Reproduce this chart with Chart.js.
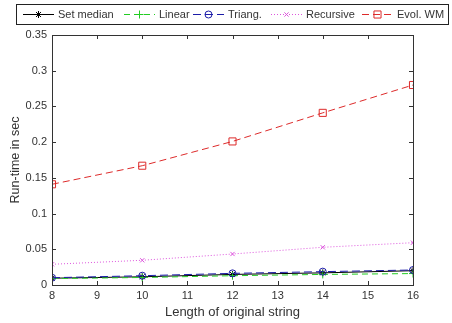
<!DOCTYPE html>
<html>
<head>
<meta charset="utf-8">
<script src="https://cdn.jsdelivr.net/npm/chart.js@4"></script>
<style>
  html, body { margin: 0; padding: 0; background: #fff; }
  #wrap { width: 452px; height: 323px; }
</style>
</head>
<body>
<div id="wrap"><canvas id="runtimeChart" width="452" height="323"></canvas></div>
<script>
// string lengths on the x axis
const lengths = [8, 10, 12, 14, 16];

// run-time per method (sec)
const setMedian = [0.0095, 0.0115, 0.0148, 0.0170, 0.0200];
const linear = [0.0090, 0.0105, 0.0130, 0.0148, 0.0160];
const triang = [0.0102, 0.0130, 0.0163, 0.0187, 0.0210];
const recursive = [0.0290, 0.0346, 0.0434, 0.0528, 0.0592];
const evolWM = [0.141, 0.167, 0.201, 0.241, 0.280];

const seriesNames = ['Set median', 'Linear', 'Triang.', 'Recursive', 'Evol. WM'];
const xTicks = [8, 9, 10, 11, 12, 13, 14, 15, 16];
const yTickLabels = ['0', '0.05', '0.1', '0.15', '0.2', '0.25', '0.3', '0.35'];

const FONT = "'Liberation Sans', Arial, sans-serif";

function pts(ys) {
    return lengths.map((x, i) => ({ x: x, y: ys[i] }));
}

function makeSet(label, ys, color, dash, style, radius, order) {
    return {
        label: label,
        data: pts(ys),
        borderColor: color,
        borderWidth: 1,
        borderDash: dash,
        pointStyle: style,
        pointRadius: radius,
        pointBorderColor: color,
        pointBackgroundColor: 'rgba(0,0,0,0)',
        pointBorderWidth: 1,
        tension: 0,
        fill: false,
        order: order
    };
}

const datasets = [
    makeSet(seriesNames[0], setMedian, '#000000', [], 'star', 3.5, 5),
    makeSet(seriesNames[1], linear, '#22cc22', [6, 4], 'cross', 4, 4),
    makeSet(seriesNames[2], triang, '#1c1ca8', [8, 4], 'circle', 3.5, 3),
    makeSet(seriesNames[3], recursive, '#dd55dd', [1, 2], 'crossRot', 3, 2),
    makeSet(seriesNames[4], evolWM, '#dd2a2a', [7, 4], 'rect', 5, 1)
];

// MATLAB style frame: box with inward ticks on all four sides
const framePlugin = {
    id: 'frame',
    afterDatasetsDraw(chart) {
        const ctx = chart.ctx;
        const a = chart.chartArea;
        const xs = chart.scales.x;
        const ys = chart.scales.y;
        ctx.save();
        ctx.strokeStyle = '#333';
        ctx.lineWidth = 1;
        ctx.setLineDash([]);
        ctx.beginPath();
        xTicks.forEach(v => {
            const px = Math.round(xs.getPixelForValue(v)) + 0.5;
            ctx.moveTo(px, a.bottom);
            ctx.lineTo(px, a.bottom - 4);
            ctx.moveTo(px, a.top);
            ctx.lineTo(px, a.top + 4);
        });
        yTickLabels.forEach((t, i) => {
            const py = Math.round(ys.getPixelForValue(i * 0.05)) + 0.5;
            ctx.moveTo(a.left, py);
            ctx.lineTo(a.left + 4, py);
            ctx.moveTo(a.right, py);
            ctx.lineTo(a.right - 4, py);
        });
        ctx.stroke();
        ctx.strokeRect(Math.round(a.left) + 0.5, Math.round(a.top) + 0.5,
            Math.round(a.right - a.left), Math.round(a.bottom - a.top));
        ctx.restore();
    }
};

// boxed legend across the top
const legendSlots = [23, 124, 193, 271, 362];
const legendPlugin = {
    id: 'boxLegend',
    afterDraw(chart) {
        const ctx = chart.ctx;
        ctx.save();
        ctx.fillStyle = '#fff';
        ctx.fillRect(16, 4, 433, 20);
        ctx.strokeStyle = '#222';
        ctx.lineWidth = 1;
        ctx.setLineDash([]);
        ctx.strokeRect(16.5, 4.5, 432, 20);
        const cy = 14.5;
        datasets.forEach((ds, i) => {
            const x0 = legendSlots[i];
            const x1 = x0 + 31;
            ctx.strokeStyle = ds.borderColor;
            ctx.lineWidth = 1;
            ctx.setLineDash(ds.borderDash);
            ctx.beginPath();
            ctx.moveTo(x0, cy);
            ctx.lineTo(x1, cy);
            ctx.stroke();
            ctx.setLineDash([]);
            ctx.fillStyle = 'rgba(0,0,0,0)';
            Chart.helpers.drawPoint(ctx, {
                pointStyle: ds.pointStyle,
                radius: ds.pointRadius,
                rotation: 0,
                borderWidth: 1
            }, (x0 + x1) / 2, cy);
            ctx.fillStyle = '#333';
            ctx.font = '11px ' + FONT;
            ctx.textBaseline = 'middle';
            ctx.fillText(ds.label, x1 + 4, cy);
        });
        ctx.restore();
    }
};

new Chart(document.getElementById('runtimeChart').getContext('2d'), {
    type: 'line',
    data: { datasets: datasets },
    options: {
        responsive: false,
        animation: false,
        devicePixelRatio: 1,
        layout: { padding: { top: 35, right: 39, left: 0, bottom: 0 } },
        plugins: {
            legend: { display: false },
            tooltip: { enabled: false }
        },
        scales: {
            x: {
                type: 'linear',
                min: 8,
                max: 16,
                grid: { display: false, drawTicks: false },
                border: { display: false },
                ticks: {
                    stepSize: 1,
                    padding: 4,
                    color: '#333',
                    font: { family: FONT, size: 11 }
                },
                title: {
                    display: true,
                    text: 'Length of original string',
                    color: '#333',
                    font: { family: FONT, size: 13 },
                    padding: { top: 0, bottom: 3 }
                },
                afterFit(scale) { scale.height = 38; }
            },
            y: {
                min: 0,
                max: 0.35,
                grid: { display: false, drawTicks: false },
                border: { display: false },
                ticks: {
                    stepSize: 0.05,
                    padding: 5,
                    color: '#333',
                    font: { family: FONT, size: 11 },
                    callback: (v, i) => yTickLabels[i]
                },
                title: {
                    display: true,
                    text: 'Run-time in sec',
                    color: '#333',
                    font: { family: FONT, size: 12.5 },
                    padding: { top: 8, bottom: 0 }
                },
                afterFit(scale) { scale.width = 52; }
            }
        }
    },
    plugins: [framePlugin, legendPlugin]
});
</script>
</body>
</html>
